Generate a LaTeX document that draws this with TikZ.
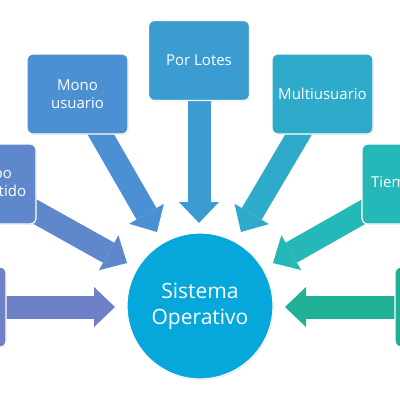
\documentclass[tikz,border=0pt]{standalone}
\usepackage{fontspec}
\setmainfont{Open Sans}
\usetikzlibrary{arrows.meta,shadows,backgrounds}
\definecolor{cBL}{HTML}{6E80C8}
\definecolor{cTC}{HTML}{5F87CB}
\definecolor{cMo}{HTML}{4A90D2}
\definecolor{cPL}{HTML}{3A9CD1}
\definecolor{cMu}{HTML}{2EAACB}
\definecolor{cTR}{HTML}{26B8B8}
\definecolor{cBR}{HTML}{20B096}
\definecolor{cSO}{HTML}{06A8DC}
\begin{document}
\begin{tikzpicture}[x=1pt,y=-1pt,
  box/.style={draw=white, line width=1.2pt, rounded corners=6pt,
    minimum width=101pt, minimum height=80pt, text=white, align=center,
    font=\fontsize{15}{17.5}\selectfont,
    drop shadow={shadow xshift=0.6pt, shadow yshift=-0.9pt, opacity=0.3}},
  hub/.style={circle, draw=white, line width=1.2pt, minimum size=146pt,
    text=white, align=center, font=\fontsize{21}{26}\selectfont,
    drop shadow={shadow xshift=0.6pt, shadow yshift=-0.9pt, opacity=0.3}},
  blk/.style={line width=23pt, -{Triangle[width=40pt,length=21pt,line width=0pt]}}]
\useasboundingbox (0,0) rectangle (400,400);
\clip (0,0) rectangle (400,400);
\node[box, fill=cPL] (pl) at (199,60.5) {Por Lotes};
\node[box, fill=cMo] (mo) at (77.5,94) {Mono\\usuario};
\node[box, fill=cMu] (mu) at (322.5,94) {Multiusuario};
\node[box, fill=cTC] (tc) at (-14.5,184) {Tiempo\\compartido};
\node[box, fill=cTR] (tr) at (412.5,184) {Tiempo real};
\node[box, fill=cBL] (bl) at (-44.5,307) {};
\node[box, fill=cBR] (br) at (445.5,307) {};
\node[hub, fill=cSO] (so) at (200,306) {Sistema\\Operativo};
\coordinate (t1) at (115,307);
\coordinate (t2) at (127,263);
\coordinate (t3) at (157,232);
\coordinate (t4) at (199,223);
\coordinate (t5) at (241,232);
\coordinate (t6) at (273,263);
\coordinate (t7) at (285,307);
\begin{pgfonlayer}{background}
  \begin{scope}
    \clip (0,0) rectangle (400,400);
    \fill[white] (0,0) rectangle (400,400);
    \draw[blk, cBL] (bl.center) -- (t1);
    \draw[blk, cTC] (tc.center) -- (t2);
    \draw[blk, cMo] (mo.center) -- (t3);
    \draw[blk, cPL] (pl.center) -- (t4);
    \draw[blk, cMu] (mu.center) -- (t5);
    \draw[blk, cTR] (tr.center) -- (t6);
    \draw[blk, cBR] (br.center) -- (t7);
  \end{scope}
\end{pgfonlayer}
\end{tikzpicture}
\end{document}
